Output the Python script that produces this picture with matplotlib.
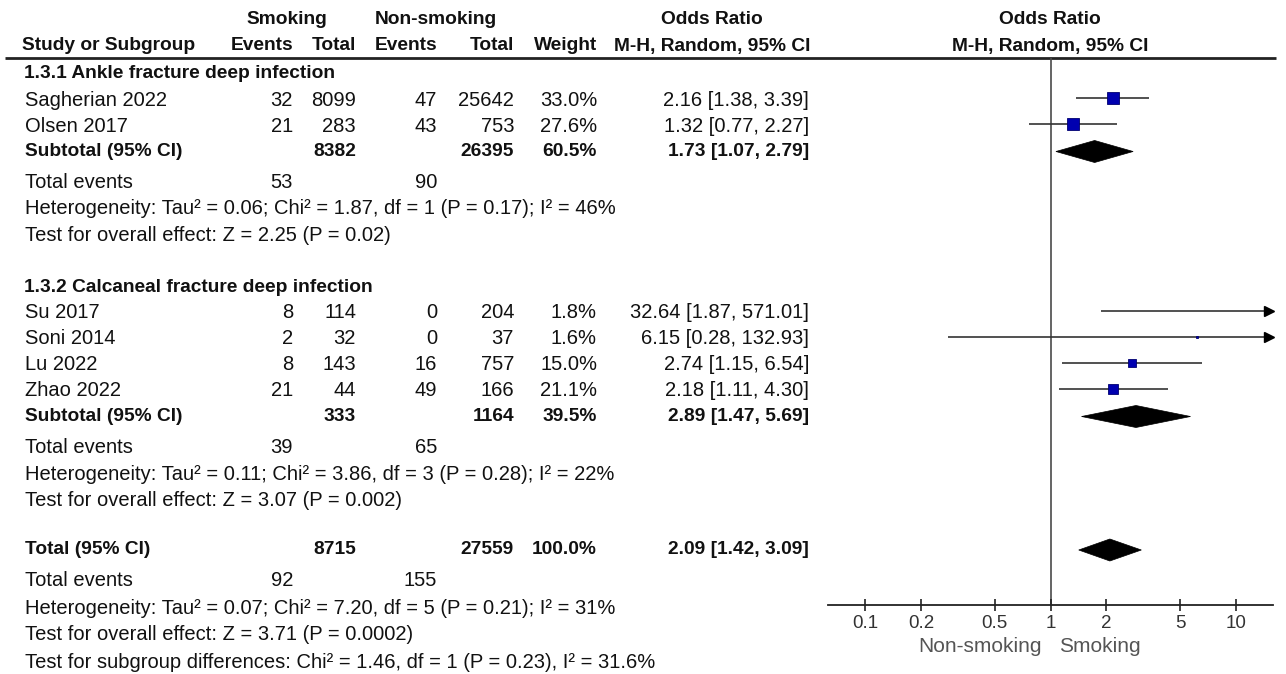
import numpy as np
import matplotlib
matplotlib.use("Agg")
import matplotlib.pyplot as plt
from matplotlib.patches import Polygon

# ---------------- data ----------------
studies_g1 = ["Sagherian 2022", "Olsen 2017"]
ev_s_g1 = [32, 21]
tot_s_g1 = [8099, 283]
ev_n_g1 = [47, 43]
tot_n_g1 = [25642, 753]
w_g1 = [33.0, 27.6]
or_g1 = [2.16, 1.32]
lo_g1 = [1.38, 0.77]
hi_g1 = [3.39, 2.27]

studies_g2 = ["Su 2017", "Soni 2014", "Lu 2022", "Zhao 2022"]
ev_s_g2 = [8, 2, 8, 21]
tot_s_g2 = [114, 32, 143, 44]
ev_n_g2 = [0, 0, 16, 49]
tot_n_g2 = [204, 37, 757, 166]
w_g2 = [1.8, 1.6, 15.0, 21.1]
or_g2 = [32.64, 6.15, 2.74, 2.18]
lo_g2 = [1.87, 0.28, 1.15, 1.11]
hi_g2 = [571.01, 132.93, 6.54, 4.30]

group_titles = ["1.3.1 Ankle fracture deep infection", "1.3.2 Calcaneal fracture deep infection"]
sub_tot_s = [8382, 333]
sub_tot_n = [26395, 1164]
sub_w = [60.5, 39.5]
sub_or = [1.73, 2.89]
sub_lo = [1.07, 1.47]
sub_hi = [2.79, 5.69]
sub_ev_s = [53, 39]
sub_ev_n = [90, 65]
sub_het = ["Heterogeneity: Tau\u00b2 = 0.06; Chi\u00b2 = 1.87, df = 1 (P = 0.17); I\u00b2 = 46%",
           "Heterogeneity: Tau\u00b2 = 0.11; Chi\u00b2 = 3.86, df = 3 (P = 0.28); I\u00b2 = 22%"]
sub_test = ["Test for overall effect: Z = 2.25 (P = 0.02)",
            "Test for overall effect: Z = 3.07 (P = 0.002)"]

total_tot_s = 8715
total_tot_n = 27559
total_w = 100.0
total_or = 2.09
total_lo = 1.42
total_hi = 3.09
total_ev_s = 92
total_ev_n = 155
total_het = "Heterogeneity: Tau\u00b2 = 0.07; Chi\u00b2 = 7.20, df = 5 (P = 0.21); I\u00b2 = 31%"
total_test = "Test for overall effect: Z = 3.71 (P = 0.0002)"
subgroup_test = "Test for subgroup differences: Chi\u00b2 = 1.46, df = 1 (P = 0.23), I\u00b2 = 31.6%"

tick_vals = [0.1, 0.2, 0.5, 1, 2, 5, 10]
tick_labels = ["0.1", "0.2", "0.5", "1", "2", "5", "10"]
favours_left = "Non-smoking"
favours_right = "Smoking"

# ---------------- layout ----------------
W, H = 1286, 674
FONT = "Liberation Sans"
FS = 14.5
FSB = 13.8
TXT = "#111111"

x_name = 25
x_ev_s, x_tot_s, x_ev_n, x_tot_n, x_w, x_or = 293, 356, 437, 514, 597, 809
y_head1, y_head2, y_rule = 20, 46, 58
y_axis = 605
fx0, fx1 = 828, 1273
log_lo, log_hi = -1.2, 1.2

fig = plt.figure(figsize=(W / 100, H / 100), dpi=100)
fig.patch.set_facecolor("white")
ax = fig.add_axes([0, 0, 1, 1])
ax.set_xlim(0, W)
ax.set_ylim(H, 0)
ax.axis("off")

fa = fig.add_axes([fx0 / W, (H - y_axis) / H, (fx1 - fx0) / W, (y_axis - y_rule) / H])
fa.set_xscale("log")
fa.set_xlim(10 ** log_lo, 10 ** log_hi)
fa.set_ylim(y_axis, y_rule)
fa.patch.set_alpha(0)
for s in ["top", "left", "right"]:
    fa.spines[s].set_visible(False)
fa.spines["bottom"].set_linewidth(1.3)
fa.spines["bottom"].set_color("#222222")
fa.set_yticks([])
fa.minorticks_off()
fa.set_xticks(tick_vals)
fa.set_xticklabels(tick_labels)
fa.tick_params(axis="x", direction="inout", length=9, width=1.2, color="#222222",
               labelsize=13.5, labelcolor="#333333", pad=3)
for lab in fa.get_xticklabels():
    lab.set_fontfamily(FONT)
fa.minorticks_off()
fa.axvline(1, color="#4a4a4a", lw=1.2, zorder=1)


def t(x, y, s, ha="left", bold=False, **kw):
    ax.text(x, y, s, ha=ha, va="center", fontsize=FSB if bold else FS, fontfamily=FONT,
            fontweight="bold" if bold else "normal", color=TXT, **kw)


# header
t(287, y_head1, "Smoking", ha="center", bold=True)
t(436, y_head1, "Non-smoking", ha="center", bold=True)
t(712, y_head1, "Odds Ratio", ha="center", bold=True)
t(1050, y_head1, "Odds Ratio", ha="center", bold=True)
t(22, y_head2, "Study or Subgroup", bold=True)
t(x_ev_s, y_head2, "Events", ha="right", bold=True)
t(x_tot_s, y_head2, "Total", ha="right", bold=True)
t(x_ev_n, y_head2, "Events", ha="right", bold=True)
t(x_tot_n, y_head2, "Total", ha="right", bold=True)
t(x_w, y_head2, "Weight", ha="right", bold=True)
t(712, y_head2, "M-H, Random, 95% CI", ha="center", bold=True)
t(1050, y_head2, "M-H, Random, 95% CI", ha="center", bold=True)
ax.plot([5, 1276], [y_rule, y_rule], color="#222222", lw=2.0, solid_capstyle="butt")

CI_COL = "#333333"
xmax = 10 ** log_hi


def study_row(y, name, es, ts, en, tn, w, o, lo, hi):
    t(x_name, y, name)
    t(x_ev_s, y, str(es), ha="right")
    t(x_tot_s, y, str(ts), ha="right")
    t(x_ev_n, y, str(en), ha="right")
    t(x_tot_n, y, str(tn), ha="right")
    t(x_w, y, f"{w:.1f}%", ha="right")
    t(x_or, y, f"{o:.2f} [{lo:.2f}, {hi:.2f}]", ha="right")
    yl = y - 2
    right = min(hi, xmax)
    fa.plot([lo, right], [yl, yl], color=CI_COL, lw=1.2, zorder=2, solid_capstyle="butt")
    if hi > xmax:
        fa.plot([10 ** (log_hi - 3.5 / 185)], [yl], marker=">", markersize=7,
                color="black", clip_on=False, zorder=3)
    if o < xmax:
        fa.plot([o], [yl], marker="s", markersize=1.55 * np.sqrt(w),
                markerfacecolor="#0000B0", markeredgecolor="#000070",
                markeredgewidth=0.6, zorder=4, clip_on=True, linestyle="none")


def diamond(y, o, lo, hi):
    fa.add_patch(Polygon([(lo, y), (o, y - 11), (hi, y), (o, y + 11)], closed=True,
                         facecolor="black", edgecolor="black", lw=0.5, zorder=4))


def subtotal_row(y, label, ts, tn, w, o, lo, hi):
    t(x_name, y, label, bold=True)
    t(x_tot_s, y, str(ts), ha="right", bold=True)
    t(x_tot_n, y, str(tn), ha="right", bold=True)
    t(x_w, y, f"{w:.1f}%", ha="right", bold=True)
    t(x_or, y, f"{o:.2f} [{lo:.2f}, {hi:.2f}]", ha="right", bold=True)
    diamond(y, o, lo, hi)


groups = [
    (studies_g1, ev_s_g1, tot_s_g1, ev_n_g1, tot_n_g1, w_g1, or_g1, lo_g1, hi_g1),
    (studies_g2, ev_s_g2, tot_s_g2, ev_n_g2, tot_n_g2, w_g2, or_g2, lo_g2, hi_g2),
]
group_top = [74, 287]
ROW = 26
for gi, g in enumerate(groups):
    y = group_top[gi]
    t(x_name - 1, y, group_titles[gi], bold=True)
    names = g[0]
    for i in range(len(names)):
        y += ROW
        study_row(y, names[i], g[1][i], g[2][i], g[3][i], g[4][i], g[5][i], g[6][i], g[7][i], g[8][i])
    y += 25.5
    subtotal_row(y, "Subtotal (95% CI)", sub_tot_s[gi], sub_tot_n[gi], sub_w[gi],
                 sub_or[gi], sub_lo[gi], sub_hi[gi])
    y += 31
    t(x_name, y, "Total events")
    t(x_ev_s, y, str(sub_ev_s[gi]), ha="right")
    t(x_ev_n, y, str(sub_ev_n[gi]), ha="right")
    y += 26.5
    t(x_name, y, sub_het[gi])
    y += 26.5
    t(x_name, y, sub_test[gi])

y = 550
subtotal_row(y, "Total (95% CI)", total_tot_s, total_tot_n, total_w, total_or, total_lo, total_hi)
y = 581
t(x_name, y, "Total events")
t(x_ev_s, y, str(total_ev_s), ha="right")
t(x_ev_n, y, str(total_ev_n), ha="right")
t(x_name, 608, total_het)
t(x_name, 635, total_test)
t(x_name, 662, subgroup_test)

ax.text(1042, 646, favours_left, ha="right", va="center", fontsize=15,
        fontfamily=FONT, color="#555555")
ax.text(1059, 646, favours_right, ha="left", va="center", fontsize=15,
        fontfamily=FONT, color="#555555")

fig.savefig("out.png", dpi=100, facecolor="white")
